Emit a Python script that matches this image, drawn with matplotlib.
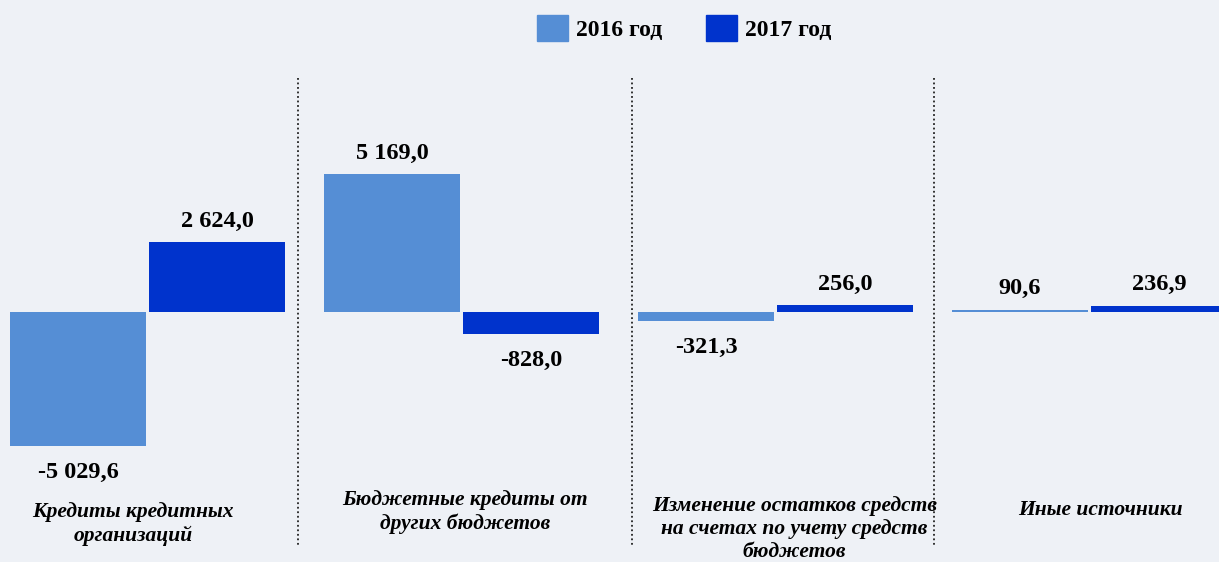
import numpy as np
import matplotlib
matplotlib.use("Agg")
import matplotlib.pyplot as plt
from matplotlib.patches import Patch
from matplotlib.transforms import blended_transform_factory

# data
categories = ["Кредиты кредитных\nорганизаций",
              "Бюджетные кредиты от\nдругих бюджетов",
              "Изменение остатков средств\nна счетах по учету средств\nбюджетов",
              "Иные источники"]
vals_2016 = [-5029.6, 5169.0, -321.3, 90.6]
vals_2017 = [2624.0, -828.0, 256.0, 236.9]
labels_2016 = ["-5 029,6", "5 169,0", "-321,3", "90,6"]
labels_2017 = ["2 624,0", "-828,0", "256,0", "236,9"]
series_names = ["2016 год", "2017 год"]

c16 = "#558ED5"
c17 = "#0033CC"
bg = "#EEF1F6"

plt.rcParams['font.family'] = ['Liberation Serif', 'DejaVu Serif']

fig = plt.figure(figsize=(12.19, 5.62), dpi=100)
fig.patch.set_facecolor(bg)
ax = fig.add_axes([0, 0, 1, 1])
ax.set_facecolor(bg)

x = np.arange(len(categories))
w = 136 / 314
off = 69.5 / 314
b1 = ax.bar(x - off, vals_2016, w, color=c16)
b2 = ax.bar(x + off, vals_2017, w, color=c17)

ax.set_xlim(-147.5 / 314, (1219 - 147.5) / 314)
ax.set_ylim(-250 * 37.5, 312 * 37.5)
ax.axis("off")

for bars, labs in ((b1, labels_2016), (b2, labels_2017)):
    for r, lab in zip(bars, labs):
        v = r.get_height()
        cx = r.get_x() + r.get_width() / 2
        dy = 15 if v >= 0 else -19
        ax.annotate(lab, (cx, v), xytext=(0, dy), textcoords="offset points",
                    ha="center", va="center", fontsize=17.5, fontweight="bold")

tr = blended_transform_factory(ax.transData, ax.transAxes)

# dotted dividers
for xd in [0.479, 1.543, 2.505]:
    ax.plot([xd, xd], [1 - 78 / 562, 1 - 545 / 562], color="#222222",
            linestyle=(0, (1, 1.5)), linewidth=1.3, transform=tr)

# category labels
cat_x = [-0.045, 1.01, 2.06, 3.035]
cat_y = [1 - 524 / 562, 1 - 512 / 562, 1 - 529 / 562, 1 - 510 / 562]
for cx, cy, name in zip(cat_x, cat_y, categories):
    ax.text(cx, cy, name, transform=tr, ha="center", va="center",
            fontsize=15.5, fontweight="bold", fontstyle="italic", linespacing=1.18)

handles = [Patch(color=c16), Patch(color=c17)]
fig.legend(handles, series_names, loc="center", bbox_to_anchor=(684 / 1219, 1 - 28 / 562),
           ncol=2, frameon=False, handlelength=1.3, handleheight=1.3,
           handletextpad=0.34, columnspacing=1.86,
           prop={"family": "Liberation Serif", "weight": "bold", "size": 17})

fig.savefig("out.png", dpi=100, facecolor=bg)
